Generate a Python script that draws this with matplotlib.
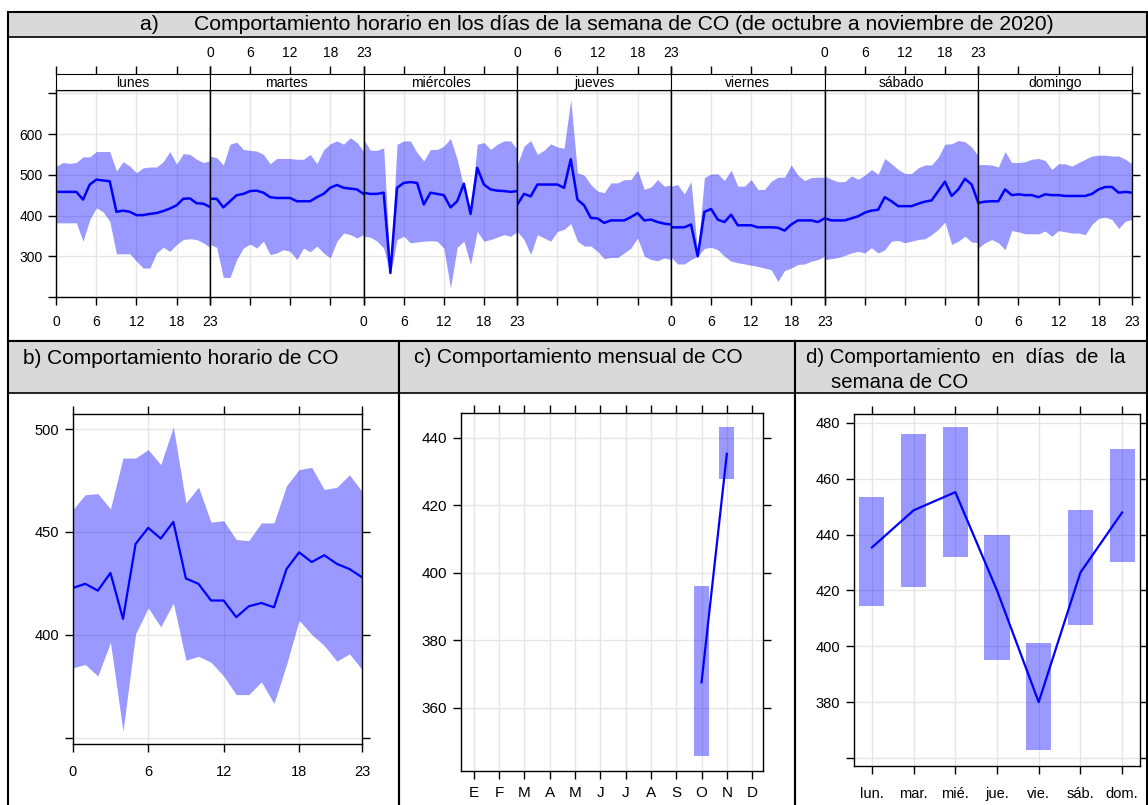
import matplotlib
matplotlib.use('Agg')
import matplotlib.pyplot as plt
from matplotlib.patches import Rectangle
from matplotlib import font_manager

# ---- datos (CO, oct-nov 2020) ----
horas = list(range(24))
dias = ['lunes', 'martes', 'miércoles', 'jueves', 'viernes', 'sábado', 'domingo']

media_dia = [
    [458, 458, 458, 458, 439, 476, 488, 486, 484, 409, 412, 409, 401, 401, 404, 406, 411, 417, 425, 441, 442, 430, 429, 421],
    [441, 441, 420, 435, 450, 453, 460, 461, 456, 445, 443, 443, 443, 435, 435, 435, 445, 453, 468, 475, 468, 466, 464, 453],
    [456, 453, 453, 456, 259, 468, 480, 482, 480, 427, 456, 453, 450, 420, 435, 478, 404, 517, 476, 464, 461, 460, 458, 460],
    [427, 453, 447, 476, 476, 476, 476, 468, 538, 439, 425, 394, 393, 382, 388, 388, 388, 396, 406, 388, 390, 384, 380, 378],
    [371, 371, 371, 378, 300, 409, 416, 390, 384, 402, 376, 376, 376, 371, 371, 371, 370, 363, 378, 388, 388, 388, 384, 393],
    [393, 388, 388, 388, 393, 398, 407, 412, 414, 445, 435, 423, 423, 423, 429, 434, 437, 460, 483, 448, 464, 490, 476, 431],
    [431, 434, 435, 435, 464, 450, 452, 450, 450, 445, 452, 450, 450, 448, 448, 448, 448, 453, 464, 470, 470, 456, 458, 456],
]
sup_dia = [
    [521, 530, 528, 530, 544, 544, 557, 557, 557, 509, 532, 521, 505, 517, 519, 519, 532, 557, 526, 552, 550, 538, 530, 534],
    [546, 542, 524, 575, 580, 562, 560, 558, 550, 527, 540, 540, 540, 538, 538, 550, 527, 561, 576, 583, 575, 591, 579, 557],
    [587, 560, 560, 566, 267, 575, 583, 583, 554, 534, 562, 562, 570, 589, 538, 468, 410, 575, 579, 562, 575, 583, 583, 562],
    [525, 570, 584, 550, 560, 576, 568, 565, 685, 505, 499, 476, 460, 456, 480, 480, 488, 488, 511, 464, 470, 488, 472, 475],
    [472, 476, 453, 483, 308, 493, 502, 502, 486, 511, 472, 472, 488, 464, 464, 484, 494, 494, 524, 499, 486, 493, 494, 494],
    [497, 489, 483, 483, 497, 489, 499, 513, 501, 540, 527, 513, 503, 503, 517, 524, 524, 543, 575, 576, 584, 581, 568, 546],
    [525, 525, 524, 519, 557, 530, 530, 532, 538, 540, 535, 513, 527, 527, 521, 530, 538, 546, 548, 548, 546, 546, 538, 527],
]
inf_dia = [
    [382, 382, 382, 382, 337, 390, 419, 409, 386, 306, 306, 306, 288, 271, 271, 308, 322, 312, 329, 341, 343, 341, 333, 322],
    [329, 322, 248, 248, 292, 320, 330, 320, 337, 304, 308, 316, 312, 292, 320, 311, 325, 308, 296, 337, 357, 353, 345, 353],
    [349, 347, 337, 320, 255, 341, 349, 333, 335, 337, 338, 337, 320, 222, 322, 337, 280, 361, 337, 341, 347, 353, 349, 361],
    [361, 341, 304, 353, 345, 337, 361, 366, 380, 337, 325, 325, 312, 294, 297, 297, 308, 320, 345, 300, 292, 289, 296, 292],
    [298, 281, 281, 292, 300, 319, 322, 316, 300, 288, 284, 281, 278, 275, 271, 267, 238, 265, 271, 280, 281, 288, 292, 300],
    [292, 294, 297, 302, 308, 312, 308, 321, 308, 316, 337, 339, 333, 337, 341, 343, 353, 366, 384, 329, 337, 349, 335, 333],
    [321, 333, 341, 333, 316, 363, 360, 355, 355, 355, 362, 349, 363, 360, 357, 357, 353, 378, 393, 396, 390, 368, 386, 390],
]

media_hora = [422.8, 424.8, 421.5, 430.1, 407.8, 444.2, 452.0, 446.8, 454.9, 427.4, 424.8, 416.7,
              416.7, 408.6, 413.9, 415.5, 413.4, 432.0, 440.1, 435.4, 438.7, 434.5, 432.0, 428.0]
sup_hora = [460.8, 468.1, 468.6, 461.2, 485.9, 485.9, 490.0, 482.7, 501.0, 464.1, 471.8, 454.7,
            455.5, 446.3, 445.8, 454.4, 454.4, 472.5, 480.3, 481.4, 470.6, 471.7, 477.8, 469.7]
inf_hora = [384.0, 385.6, 380.0, 396.4, 353.2, 400.5, 413.1, 403.9, 415.5, 387.7, 389.6, 386.7,
            380.0, 371.0, 371.0, 377.2, 366.7, 385.6, 407.1, 400.2, 394.8, 387.2, 390.8, 383.2]

meses = ['E', 'F', 'M', 'A', 'M', 'J', 'J', 'A', 'S', 'O', 'N', 'D']
mes_num = [10, 11]
media_mes = [367.6, 435.3]
sup_mes = [396.0, 443.3]
inf_mes = [345.8, 427.9]

dias_cortos = ['lun.', 'mar.', 'mié.', 'jue.', 'vie.', 'sáb.', 'dom.']
media_sem = [435.4, 448.7, 455.2, 420.0, 380.0, 426.4, 447.9]
sup_sem = [453.6, 476.0, 478.4, 440.0, 401.0, 448.7, 470.5]
inf_sem = [414.3, 421.4, 432.0, 395.0, 362.8, 407.5, 430.1]

# ---- estilo ----
nombres = {f.name for f in font_manager.fontManager.ttflist}
plt.rcParams['font.family'] = ['Liberation Sans', 'DejaVu Sans']
fuente_ejes = 'Liberation Sans Narrow' if 'Liberation Sans Narrow' in nombres else 'Liberation Sans'

W, H = 1148, 805
fig = plt.figure(figsize=(W / 100, H / 100), dpi=100)
GRIS = '#d9d9d9'
REJ = '#e6e6e6'


def caja(x0, y0, x1, y1):
    return [x0 / W, 1 - y1 / H, (x1 - x0) / W, (y1 - y0) / H]


def rect(x0, y0, x1, y1, **kw):
    fig.add_artist(Rectangle((x0 / W, 1 - y1 / H), (x1 - x0) / W, (y1 - y0) / H,
                             transform=fig.transFigure, **kw))


def texto(x, y, s, **kw):
    fig.text(x / W, 1 - y / H, s, **kw)


def estilo(ax, lab_size=10, pad_x=8):
    ax.grid(color=REJ, lw=1)
    ax.set_axisbelow(True)
    ax.tick_params(direction='out', length=6, width=1, labelsize=lab_size, pad=4)
    ax.tick_params(axis='x', pad=pad_x)
    for s in ax.spines.values():
        s.set_linewidth(1)
    for lab in ax.get_xticklabels() + ax.get_yticklabels():
        lab.set_fontfamily(fuente_ejes)


# ---- marcos ----
rect(8, 12, 1147, 37, facecolor=GRIS, edgecolor='black', lw=1.2)
rect(8, 12, 1147, 341, facecolor='none', edgecolor='black', lw=1.5)
for (a, b) in [(8, 399), (399, 795), (795, 1147)]:
    rect(a, 341, b, 393, facecolor=GRIS, edgecolor='black', lw=1.2)
    rect(a, 341, b, 812, facecolor='none', edgecolor='black', lw=1.5)

texto(140, 25, 'a)      Comportamiento horario en los días de la semana de CO (de octubre a noviembre de 2020)',
      fontsize=15.2, va='center')
texto(23, 358, 'b) Comportamiento horario de CO', fontsize=15, va='center')
texto(414, 357, 'c) Comportamiento mensual de CO', fontsize=15, va='center')
texto(806, 357, 'd) Comportamiento  en  días  de  la', fontsize=14.7, va='center')
texto(831, 382, 'semana de CO', fontsize=14.7, va='center')

# ---- a) paneles por dia ----
xi, xf = 56.3, 1132
pw = (xf - xi) / 7
for k, dia in enumerate(dias):
    xa = xi + k * pw
    ax = fig.add_axes(caja(xa, 90, xa + pw, 297))
    ax.fill_between(horas, inf_dia[k], sup_dia[k], color='blue', alpha=0.4, lw=0)
    ax.plot(horas, media_dia[k], color='blue', lw=1.8)
    ax.set_xlim(0, 23)
    ax.set_ylim(200, 708)
    ax.set_xticks([0, 6, 12, 18, 23])
    ax.set_yticks(range(200, 701, 100))
    ax.set_yticklabels(['', '300', '400', '500', '600', ''])
    if k % 2 == 1:
        ax.set_xticklabels([])
    ax.tick_params(axis='y', left=(k == 0), labelleft=(k == 0), right=(k == 6), labelright=False)
    ax.tick_params(axis='x', top=False)
    estilo(ax, 10, 7)

    sx = fig.add_axes(caja(xa, 74, xa + pw, 90))
    sx.set_xlim(0, 23)
    sx.set_ylim(0, 1)
    sx.set_xticks([0, 6, 12, 18, 23])
    sx.set_yticks([])
    sx.tick_params(axis='x', bottom=False, labelbottom=False, top=True, labeltop=(k % 2 == 1),
                   direction='out', length=6, width=1, labelsize=10, pad=4)
    for lab in sx.get_xticklabels():
        lab.set_fontfamily(fuente_ejes)
    sx.text(11.5, 0.45, dia, ha='center', va='center', fontsize=10, family=fuente_ejes)

# ---- b) horario ----
ax = fig.add_axes(caja(72.7, 414, 362, 744))
ax.fill_between(horas, inf_hora, sup_hora, color='blue', alpha=0.4, lw=0)
ax.plot(horas, media_hora, color='blue', lw=1.6)
ax.set_xlim(0, 23)
ax.set_ylim(347, 507.3)
ax.set_xticks([0, 6, 12, 18, 23])
ax.set_yticks([350, 400, 450, 500])
ax.set_yticklabels(['', '400', '450', '500'])
ax.tick_params(top=True, right=True)
estilo(ax, 10.5, 9)

# ---- c) mensual ----
ax = fig.add_axes(caja(461, 413, 763, 771))
ax.bar(mes_num, [s - i for s, i in zip(sup_mes, inf_mes)], bottom=inf_mes, width=0.6,
       color='blue', alpha=0.4, lw=0)
ax.plot(mes_num, media_mes, color='blue', lw=1.6)
ax.set_xlim(0.49, 12.43)
ax.set_ylim(341.3, 447.4)
ax.set_xticks(range(1, 13))
ax.set_xticklabels(meses)
ax.set_yticks(range(360, 441, 20))
ax.tick_params(top=True, right=True)
estilo(ax, 11, 5)

# ---- d) dia de la semana ----
ax = fig.add_axes(caja(854, 414, 1140, 766))
xs = list(range(1, 8))
ax.bar(xs, [s - i for s, i in zip(sup_sem, inf_sem)], bottom=inf_sem, width=0.6,
       color='blue', alpha=0.4, lw=0)
ax.plot(xs, media_sem, color='blue', lw=1.6)
ax.set_xlim(0.57, 7.43)
ax.set_ylim(357.1, 483.2)
ax.set_xticks(xs)
ax.set_xticklabels(dias_cortos)
ax.set_yticks(range(360, 481, 20))
ax.set_yticklabels([''] + [str(v) for v in range(380, 481, 20)])
ax.tick_params(top=True, right=True)
estilo(ax, 10.5, 9)

fig.savefig('out.png', dpi=100)
